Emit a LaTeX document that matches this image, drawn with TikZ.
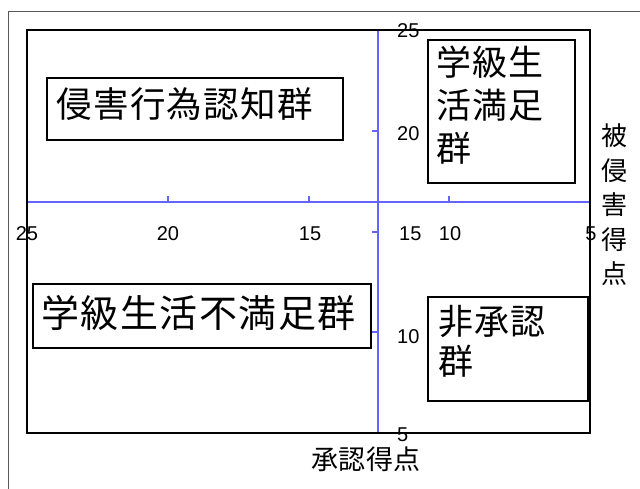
\documentclass[tikz,border=0pt]{standalone}
\usepackage{fontspec}
\setmainfont{Liberation Sans}
\newfontfamily\cjk{Noto Sans CJK JP}
\newfontfamily\cjkwide{Noto Sans CJK JP}[LetterSpace=4]
\newfontfamily\cjkaxis{Noto Sans CJK JP}[LetterSpace=2]
\definecolor{axisblue}{RGB}{100,100,255}
\begin{document}
\begin{tikzpicture}[x=1pt,y=-1pt,
  grpbox/.style={draw=black,line width=2pt,fill=white,inner sep=0pt,rectangle},
  grptext/.style={inner sep=0pt,anchor=west,align=left},
  numlab/.style={inner sep=0pt,font=\fontsize{20}{22}\selectfont},
  axisline/.style={draw=axisblue,line width=1.2pt},
  tickmark/.style={draw=axisblue,line width=1.2pt}]
\useasboundingbox (0,0) rectangle (640,488);
% outer frame
\draw[black!65,line width=1pt] (8,11) rectangle (700,560);
% plot area corners
\coordinate (pl) at (27,30);
\coordinate (pr) at (590,433);
% axes
\coordinate (xa) at (27,202);
\coordinate (xb) at (590,202);
\coordinate (ya) at (378,30);
\coordinate (yb) at (378,433);
\draw[axisline] (xa) -- (xb);
\draw[axisline] (ya) -- (yb);
% ticks on horizontal axis
\foreach \x in {168,309,449} {\draw[tickmark] (\x,202) -- (\x,196);}
% ticks on vertical axis
\foreach \y in {131,232,332} {\draw[tickmark] (378,\y) -- (372,\y);}
% horizontal axis labels
\node[numlab] (h25) at (27,234) {25};
\node[numlab] (h20) at (168,234) {20};
\node[numlab] (h15) at (310,234) {15};
\node[numlab] (h10) at (450,234) {10};
\node[numlab] (h5) at (591,234) {5};
% vertical axis labels
\node[numlab,anchor=west] (v25) at (397,31) {25};
\node[numlab,anchor=west] (v20) at (397,134) {20};
\node[numlab,anchor=west] (v15) at (399,234) {15};
\node[numlab,anchor=west] (v10) at (397,337) {10};
\node[numlab,anchor=west] (v5) at (397,435) {5};
% plot box
\draw[black,line width=2pt] (pl) rectangle (pr);
% group boxes
\node[grpbox,minimum width=296pt,minimum height=62pt] (b1) at (195,109) {};
\node[grpbox,minimum width=147pt,minimum height=143pt] (b2) at (501.5,111.5) {};
\node[grpbox,minimum width=338pt,minimum height=64pt] (b3) at (202,316) {};
\node[grpbox,minimum width=160pt,minimum height=104pt] (b4) at (508,349) {};
% group texts
\node[grptext,font=\cjkwide\fontsize{35.5}{43}\selectfont] (t1) at (56,104) {侵害行為認知群};
\node[grptext,font=\cjkwide\fontsize{35}{43}\selectfont] (t2) at (436,105) {学級生\\活満足\\群};
\node[grptext,font=\cjkwide\fontsize{38}{43}\selectfont] (t3) at (41,313) {学級生活不満足群};
\node[grptext,font=\cjkwide\fontsize{35}{40}\selectfont] (t4) at (438,341) {非承認\\群};
% axis titles
\node[inner sep=0pt,font=\cjkaxis\fontsize{27}{30}\selectfont] (xt) at (366,459) {承認得点};
\node[inner sep=0pt,align=center,font=\cjk\fontsize{26}{34.5}\selectfont] (yt) at (614,205) {被\\侵\\害\\得\\点};
\end{tikzpicture}
\end{document}
